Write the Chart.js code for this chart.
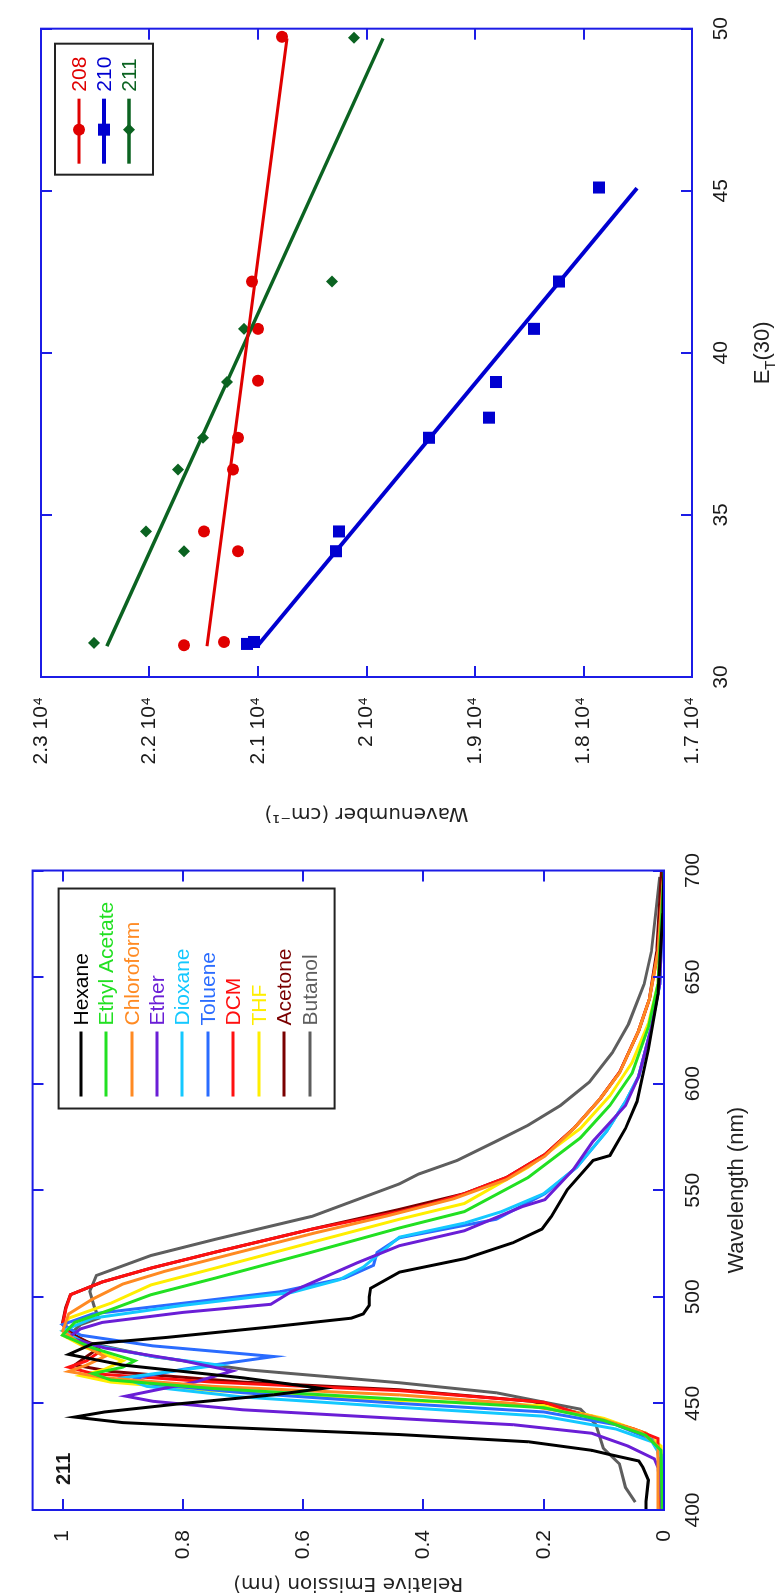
<!DOCTYPE html>
<html>
<head>
<meta charset="utf-8">
<title>211 emission spectra and E_T(30) plot</title>
<script src="https://cdn.jsdelivr.net/npm/chart.js@4.4.1/dist/chart.umd.min.js"></script>
<style>
  html, body { margin: 0; padding: 0; background: #fff; overflow: hidden; width: 781px; height: 1596px; }
  /* the whole figure is laid out landscape and then turned a quarter turn */
  #figure { position: absolute; left: 0; top: 0; width: 1596px; height: 781px;
            transform-origin: 0 0; transform: translate(0, 1596px) rotate(-90deg); }
  #spectra { position: absolute; left: 0; top: 0; }
  #lippert { position: absolute; left: 760px; top: 0; }
</style>
</head>
<body>
<div id="figure">
  <canvas id="spectra" width="760" height="781"></canvas>
  <canvas id="lippert" width="836" height="781"></canvas>
</div>
<script>
const AXIS_BLUE = "#1c1ce6";
const TEXT = "#1a1a1a";
const SANS = "'Liberation Sans', Arial, sans-serif";
const WIDE = "'DejaVu Sans', sans-serif";

// ---- left panel: emission spectra of 211 ----
const panelLabel = "211";
const wavelengthTicks = [400, 450, 500, 550, 600, 650, 700];
const emissionTicks = [0, 0.2, 0.4, 0.6, 0.8, 1];
const solvents = ["Hexane", "Ethyl Acetate", "Chloroform", "Ether", "Dioxane", "Toluene", "DCM", "THF", "Acetone", "Butanol"];
const solventColors = ["#000000", "#22e022", "#ff8a22", "#6a1ed6", "#14c8ff", "#2a6cff", "#ff1010", "#ffee00", "#7a0000", "#5e5e5e"];

// [wavelength nm, relative emission]
const hexane = [[400,0.03],[404,0.03],[414,0.026],[420,0.035],[423,0.042],[426,0.09],[428,0.12],[432,0.225],[435.4,0.44],[439,0.75],[441,0.9],[443.6,0.98],[446,0.93],[450,0.8],[454,0.65],[457,0.568],[462,0.7],[468,0.9],[473,0.99],[478,0.95],[481,0.826],[486,0.65],[490,0.52],[492,0.5],[496,0.49],[500,0.49],[504,0.488],[511.6,0.44],[518,0.33],[525.4,0.251],[531.8,0.203],[537.8,0.187],[550.2,0.161],[564,0.118],[566.3,0.09],[579,0.064],[591.6,0.045],[616,0.026],[642,0.01],[680,0.002],[700,0]];
const ethylAcetate = [[400,0.003],[428,0.005],[435,0.03],[442,0.1],[448,0.2],[452,0.44],[457,0.75],[461,0.92],[464,0.95],[467,0.9],[470,0.88],[476,0.95],[482,1.0],[488,0.98],[494,0.92],[501,0.853],[508.8,0.746],[521,0.585],[532.3,0.44],[540,0.332],[556,0.226],[574.6,0.139],[589.8,0.09],[605,0.053],[626.5,0.026],[646.7,0.01],[700,0]];
const chloroform = [[400,0.01],[430,0.01],[437,0.04],[444,0.12],[450,0.25],[454,0.44],[458,0.75],[462,0.93],[465,0.99],[468,0.96],[472,0.93],[478,0.97],[484,1.0],[492,0.99],[499,0.95],[506,0.9],[512,0.83],[520,0.72],[530,0.58],[538,0.46],[546,0.35],[555,0.262],[566,0.198],[579,0.15],[593,0.106],[605,0.074],[625,0.042],[640,0.024],[662,0.01],[700,0]];
const ether = [[400,0.003],[420,0.01],[424,0.016],[430,0.06],[436,0.12],[440,0.25],[442.9,0.44],[447,0.7],[451,0.85],[453.4,0.895],[456,0.85],[460,0.78],[465.2,0.718],[470,0.8],[476,0.93],[481,0.99],[485,0.97],[488,0.934],[492.7,0.8],[496.5,0.654],[502.4,0.62],[508.8,0.568],[516,0.51],[524,0.44],[531,0.332],[542.4,0.235],[545.6,0.198],[560,0.15],[573,0.118],[589.8,0.064],[603.6,0.042],[626.5,0.021],[646.7,0.007],[700,0]];
const dioxane = [[400,0.003],[425,0.005],[432,0.02],[438,0.08],[444,0.2],[448.2,0.44],[453,0.7],[458,0.86],[462,0.9],[465,0.82],[468,0.74],[472,0.85],[478,0.96],[484,1.0],[490,0.95],[496,0.8],[502,0.62],[508,0.54],[514,0.5],[521,0.47],[528,0.44],[534.6,0.332],[540,0.27],[548.4,0.2],[560.8,0.145],[577.8,0.095],[591.6,0.064],[603.6,0.042],[626.5,0.021],[646.7,0.007],[700,0]];
const toluene = [[400,0.003],[426,0.005],[433,0.02],[440,0.08],[446,0.2],[450,0.44],[455,0.7],[459,0.85],[462,0.88],[466,0.8],[472,0.649],[477,0.85],[482,0.97],[487,1.0],[492,0.95],[497,0.8],[502.4,0.638],[508.8,0.531],[514.8,0.483],[520.8,0.477],[527.7,0.44],[536.4,0.279],[548.4,0.198],[560.8,0.145],[577.8,0.095],[591.6,0.064],[603.6,0.042],[626.5,0.021],[646.7,0.007],[700,0]];
const dcm = [[400,0.005],[428,0.01],[433.5,0.01],[438,0.05],[445,0.14],[450.6,0.2],[456,0.44],[460,0.75],[464,0.95],[467,0.99],[470,0.96],[474,0.94],[480,0.98],[487,1.0],[494,0.995],[501,0.987],[507,0.934],[513.5,0.853],[521,0.746],[531.8,0.585],[540,0.44],[543.8,0.386],[548.4,0.332],[556,0.262],[566.8,0.198],[579,0.15],[593,0.106],[605.3,0.074],[625,0.042],[640,0.024],[661.9,0.01],[697,0.001]];
const thf = [[400,0.003],[430,0.005],[436,0.03],[443,0.1],[449,0.2],[451.4,0.44],[456,0.75],[460,0.92],[463,0.97],[466,0.93],[470,0.9],[476,0.96],[482,1.0],[490,0.99],[497,0.92],[505.6,0.853],[513.5,0.746],[525.6,0.585],[536.4,0.44],[543.8,0.332],[560.8,0.226],[579,0.139],[594.3,0.09],[610,0.053],[628.3,0.026],[646.7,0.01],[700,0]];
const acetone = [[400,0.005],[430,0.01],[436,0.03],[444,0.12],[451,0.22],[456.4,0.44],[460,0.7],[465,0.92],[468,0.98],[472,0.96],[476,0.94],[482,0.98],[488,1.0],[495,0.995],[501,0.987],[507,0.934],[513.5,0.853],[521,0.746],[531.8,0.585],[541,0.44],[548.4,0.332],[556,0.262],[566.8,0.198],[579,0.15],[593,0.106],[605.3,0.074],[625,0.042],[640,0.024],[662,0.012],[700,0.004]];
const butanol = [[403.7,0.048],[410.6,0.064],[421.6,0.074],[429,0.101],[440,0.113],[447.3,0.139],[450.5,0.198],[455,0.279],[459.7,0.44],[465.7,0.69],[472,0.85],[478,0.95],[482,0.99],[487,0.97],[490,0.94],[495,0.947],[502.5,0.955],[510,0.944],[519.4,0.853],[527,0.746],[537.8,0.585],[553,0.44],[557.6,0.408],[564,0.344],[573,0.279],[580.5,0.226],[589.8,0.172],[600.8,0.124],[614.5,0.086],[628,0.059],[646.7,0.033],[661.9,0.021],[697,0.007]];
const spectra = [hexane, ethylAcetate, chloroform, ether, dioxane, toluene, dcm, thf, acetone, butanol];

// ---- right panel: emission maximum vs E_T(30) ----
const etTicks = [30, 35, 40, 45, 50];
const wavenumberTicks = [17000, 18000, 19000, 20000, 21000, 22000, 23000];
const compounds = ["208", "210", "211"];
const et208 = [49.75, 42.2, 40.74, 39.14, 37.38, 36.4, 34.49, 33.88, 30.98, 31.08];
const wn208 = [20779, 21055, 21000, 21000, 21184, 21230, 21498, 21184, 21682, 21313];
const et210 = [31.02, 31.08, 34.49, 33.88, 37.38, 38.0, 39.1, 40.74, 42.2, 45.1];
const wn210 = [21101, 21037, 20253, 20281, 19424, 18871, 18806, 18456, 18226, 17857];
const et211 = [49.72, 42.2, 40.74, 39.1, 37.38, 36.4, 34.49, 33.88, 31.05];
const wn211 = [20115, 20318, 21129, 21286, 21507, 21737, 22032, 21682, 22512];
// linear fits, end points
const fitEt208 = [30.95, 49.7], fitWn208 = [21470, 20733];
const fitEt210 = [30.98, 45.08], fitWn210 = [21000, 17507];
const fitEt211 = [30.95, 49.7], fitWn211 = [22392, 19848];

const compoundColors = ["#e00000", "#0000d0", "#0b6321"];
const compoundMarkers = ["circle", "rect", "rectRot"];
const markerRadius = [6, 8.5, 6];
const fitWidth = [3, 4, 3.5];

function pairs(xs, ys) {
  return xs.map((x, i) => ({ x, y: ys[i] }));
}

// frame + inward ticks on all four sides
function boxAxes(xTicks, yTicks) {
  return {
    id: "boxAxes",
    afterDatasetsDraw(chart) {
      const { ctx, chartArea: a, scales } = chart;
      ctx.save();
      ctx.strokeStyle = AXIS_BLUE;
      ctx.lineWidth = 2;
      ctx.beginPath();
      xTicks.forEach(v => {
        const p = Math.round(scales.x.getPixelForValue(v));
        ctx.moveTo(p, a.bottom); ctx.lineTo(p, a.bottom - 11);
        ctx.moveTo(p, a.top); ctx.lineTo(p, a.top + 11);
      });
      yTicks.forEach(v => {
        const p = Math.round(scales.y.getPixelForValue(v));
        ctx.moveTo(a.left, p); ctx.lineTo(a.left + 11, p);
        ctx.moveTo(a.right, p); ctx.lineTo(a.right - 11, p);
      });
      ctx.stroke();
      ctx.strokeRect(a.left, a.top, a.right - a.left, a.bottom - a.top);
      ctx.restore();
    }
  };
}

const spectraLegend = {
  id: "spectraLegend",
  afterDraw(chart) {
    const { ctx, chartArea: a } = chart;
    const x0 = a.right - 238, y0 = a.top + 26;
    ctx.save();
    ctx.fillStyle = "#fff";
    ctx.fillRect(x0, y0, 220, 276);
    ctx.strokeStyle = "#222";
    ctx.lineWidth = 2;
    ctx.strokeRect(x0, y0, 220, 276);
    ctx.font = "21px " + SANS;
    ctx.textBaseline = "middle";
    solvents.forEach((name, i) => {
      const y = Math.round(y0 + 22 + i * 25.45);
      ctx.strokeStyle = solventColors[i];
      ctx.lineWidth = 3;
      ctx.beginPath();
      ctx.moveTo(x0 + 12, y); ctx.lineTo(x0 + 77, y);
      ctx.stroke();
      ctx.fillStyle = solventColors[i];
      ctx.fillText(name, x0 + 83, y + 1);
    });
    // compound label in the corner
    ctx.fillStyle = TEXT;
    ctx.font = "bold 20px " + SANS;
    ctx.fillText(panelLabel, a.left + 25, a.top + 32);
    ctx.restore();
  }
};

const fitLegend = {
  id: "fitLegend",
  afterDraw(chart) {
    const { ctx, chartArea: a } = chart;
    const x0 = a.right - 146, y0 = a.top + 14;
    ctx.save();
    ctx.strokeStyle = "#222";
    ctx.lineWidth = 2;
    ctx.strokeRect(x0, y0, 131, 98);
    ctx.font = "21px " + SANS;
    ctx.textBaseline = "middle";
    compounds.forEach((name, i) => {
      const y = y0 + 24 + i * 25;
      ctx.strokeStyle = compoundColors[i];
      ctx.lineWidth = fitWidth[i];
      ctx.beginPath();
      ctx.moveTo(x0 + 11, y); ctx.lineTo(x0 + 76, y);
      ctx.stroke();
      ctx.fillStyle = compoundColors[i];
      Chart.helpers.drawPoint(ctx, { pointStyle: compoundMarkers[i], radius: markerRadius[i], rotation: 0, borderWidth: 0 }, x0 + 45, y);
      ctx.fillText(name, x0 + 83, y + 1);
    });
    // x title with subscript
    const cx = (a.left + a.right) / 2, base = a.bottom + 77;
    ctx.fillStyle = "#222";
    ctx.textBaseline = "alphabetic";
    ctx.font = "22px " + SANS;
    const wE = ctx.measureText("E").width, w30 = ctx.measureText("(30)").width;
    ctx.font = "15px " + SANS;
    const wT = ctx.measureText("T").width;
    let x = cx - (wE + wT + w30) / 2;
    ctx.font = "22px " + SANS;
    ctx.fillText("E", x, base); x += wE;
    ctx.font = "15px " + SANS;
    ctx.fillText("T", x, base + 6); x += wT;
    ctx.font = "22px " + SANS;
    ctx.fillText("(30)", x, base);
    ctx.restore();
  }
};

const common = {
  responsive: false,
  animation: false,
  devicePixelRatio: 1,
  events: [],
  plugins: { legend: { display: false }, tooltip: { enabled: false } }
};

new Chart(document.getElementById("spectra"), {
  type: "line",
  data: {
    datasets: spectra.map((s, i) => ({
      label: solvents[i],
      data: s.map(([x, y]) => ({ x, y })),
      borderColor: solventColors[i],
      borderWidth: 3,
      pointRadius: 0,
      tension: 0,
      fill: false
    }))
  },
  options: {
    ...common,
    layout: { padding: { left: 0, right: 21, top: 10, bottom: 0 } },
    scales: {
      x: {
        type: "linear", min: 400, max: 700,
        afterBuildTicks: s => { s.ticks = wavelengthTicks.map(v => ({ value: v })); },
        afterFit: s => { s.height = 117; },
        grid: { display: false, drawTicks: false },
        border: { display: false },
        ticks: { padding: 17, maxRotation: 0, color: TEXT, font: { family: SANS, size: 21 } },
        title: { display: true, text: "Wavelength (nm)", color: "#222", font: { family: SANS, size: 22 }, padding: { top: 0, bottom: 31 } }
      },
      y: {
        type: "linear", min: 0, max: 1.05,
        afterBuildTicks: s => { s.ticks = emissionTicks.map(v => ({ value: v })); },
        afterFit: s => { s.width = 86; },
        grid: { display: false, drawTicks: false },
        border: { display: false },
        ticks: { padding: 20, color: TEXT, font: { family: SANS, size: 21 }, callback: v => String(Math.round(v * 10) / 10) },
        title: { display: true, text: "Relative Emission (nm)", color: "#222", font: { family: WIDE, size: 20 }, padding: { top: 1, bottom: 0 } }
      }
    }
  },
  plugins: [boxAxes(wavelengthTicks, emissionTicks), spectraLegend]
});

const points = [pairs(et208, wn208), pairs(et210, wn210), pairs(et211, wn211)];
const fits = [pairs(fitEt208, fitWn208), pairs(fitEt210, fitWn210), pairs(fitEt211, fitWn211)];

new Chart(document.getElementById("lippert"), {
  type: "scatter",
  data: {
    datasets: [
      ...fits.map((f, i) => ({
        label: compounds[i] + " fit",
        data: f,
        showLine: true,
        borderColor: compoundColors[i],
        borderWidth: fitWidth[i],
        pointRadius: 0
      })),
      ...points.map((p, i) => ({
        label: compounds[i],
        data: p,
        showLine: false,
        pointStyle: compoundMarkers[i],
        pointRadius: markerRadius[i],
        pointBackgroundColor: compoundColors[i],
        pointBorderWidth: 0
      }))
    ]
  },
  options: {
    ...common,
    layout: { padding: { left: 0, right: 27, top: 41, bottom: 0 } },
    scales: {
      x: {
        type: "linear", min: 30, max: 50,
        afterBuildTicks: s => { s.ticks = etTicks.map(v => ({ value: v })); },
        afterFit: s => { s.height = 89; },
        grid: { display: false, drawTicks: false },
        border: { display: false },
        ticks: { padding: 17, maxRotation: 0, color: TEXT, font: { family: SANS, size: 21 } }
      },
      y: {
        type: "linear", min: 17000, max: 23000,
        afterBuildTicks: s => { s.ticks = wavenumberTicks.map(v => ({ value: v })); },
        afterFit: s => { s.width = 159; },
        grid: { display: false, drawTicks: false },
        border: { display: false },
        ticks: { padding: 20, color: TEXT, font: { family: SANS, size: 21 }, callback: v => (Math.round(v / 100) / 100) + " 10\u2074" },
        title: { display: true, text: "Wavenumber (cm\u207B\u00B9)", color: "#222", font: { family: WIDE, size: 20 }, padding: { top: 11, bottom: 0 } }
      }
    }
  },
  plugins: [boxAxes(etTicks, wavenumberTicks), fitLegend]
});
</script>
</body>
</html>
